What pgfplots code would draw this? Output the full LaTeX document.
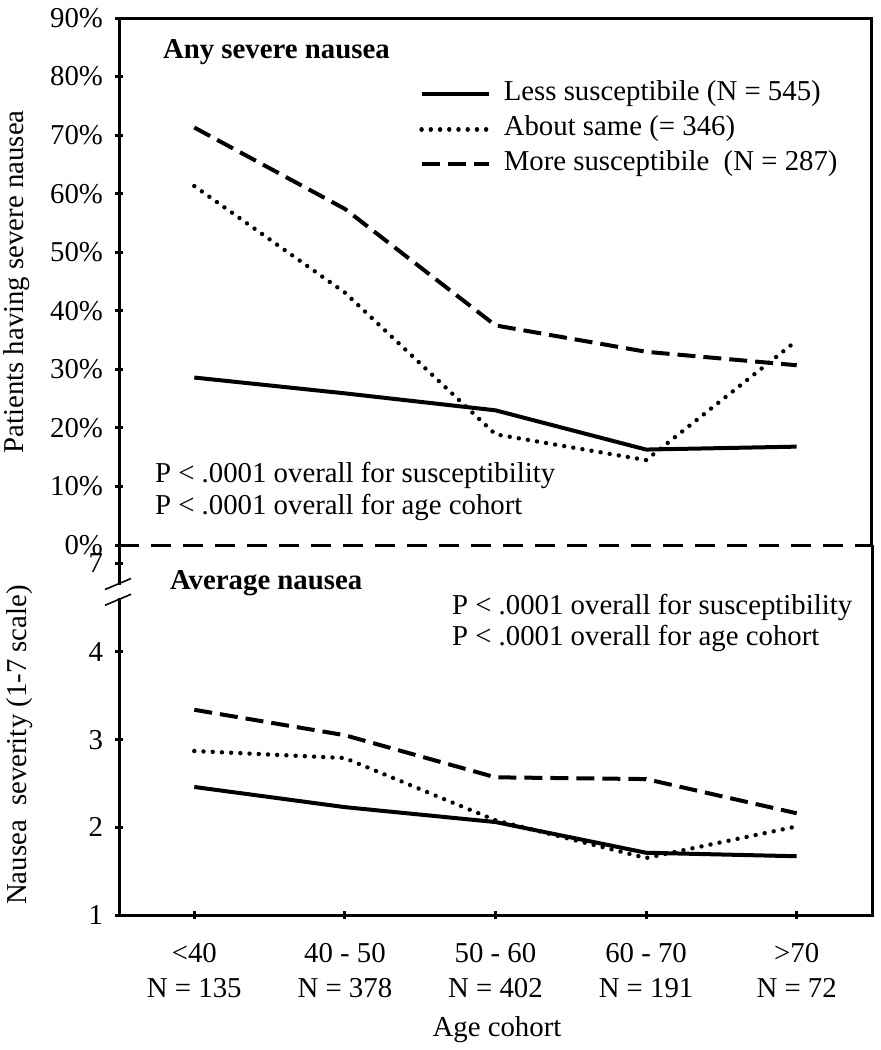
\documentclass[border=0pt]{standalone}
\usepackage{fontspec}
\setmainfont{Liberation Serif}
\usepackage{pgfplots}
\pgfplotsset{compat=1.18}
\newcommand{\ff}{\fontsize{14.4}{17.5}\selectfont}
\begin{document}
\begin{tikzpicture}[font=\ff]
\useasboundingbox (0,0) rectangle (440.5pt,-525pt);
\pgfplotsset{
 common/.style={scale only axis, width=376.5pt, xmin=-0.5, xmax=4.5, clip=false,
   tick align=outside, major tick length=4pt,
   tick style={black, line width=1.5pt},
   tick label style={font=\ff},
   /pgf/number format/assume math mode=true},
 less/.style={black, line width=2pt, line join=round},
 same/.style={black, line width=2.2pt, line cap=round, dash pattern=on 0.01pt off 4.6pt},
 more/.style={black, line width=2pt, dash pattern=on 9pt off 4pt},
}
% ---------- top panel ----------
\begin{axis}[common, at={(59.5pt,-272.5pt)}, anchor=south west, height=263.5pt,
  ymin=0, ymax=90, ytick={0,10,...,90},
  yticklabel={\pgfmathprintnumber{\tick}\%},
  yticklabel style={xshift=-2.5pt},
  axis x line=none, axis y line=left, xtick=\empty,
  axis line style={-, line width=1.5pt, line cap=rect},
  legend cell align=left,
  legend image code/.code={\draw[#1] (0pt,0pt) -- (33.5pt,0pt); \path (38pt,0pt);},
  legend style={at={(0.3984,0.889)}, anchor=north west, draw=none, fill=none,
    inner sep=0pt, row sep=0pt, font=\ff,
    nodes={inner sep=2pt, text height=10pt, text depth=3.5pt}},
]
\addplot[less] coordinates {(0,28.6) (1,25.9) (2,23.0) (3,16.3) (4,16.8)};
\addlegendentry{Less susceptibile (N = 545)}
\addplot[same] coordinates {(0,61.3) (1,43.1) (2,18.9) (3,14.5) (4,34.9)};
\addlegendentry{About same (= 346)}
\addplot[more] coordinates {(0,71.3) (1,57.4) (2,37.5) (3,33.0) (4,30.7)};
\addlegendentry{More susceptibile\ \ (N = 287)}
\draw[line width=1.5pt] (rel axis cs:0,1) -- (rel axis cs:1,1) -- (rel axis cs:1,0);
\draw[line width=1.5pt, dash pattern=on 10pt off 6pt] (rel axis cs:0,0) -- (rel axis cs:1,0);
\end{axis}
% ---------- bottom panel ----------
\begin{axis}[common, at={(59.5pt,-457.5pt)}, anchor=south west, height=185pt,
  ymin=1, ymax=5.219, ytick={1,2,3,4,5.01}, yticklabels={1,2,3,4,7},
  yticklabel style={xshift=-2.5pt},
  axis x line=bottom, axis y line=left,
  axis line style={-, line width=1.5pt, line cap=rect},
  xtick={0,1,2,3,4},
  xticklabels={{<40\\N = 135},{40 - 50\\N = 378},{50 - 60\\N = 402},{60 - 70\\N = 191},{>70\\N = 72}},
  xticklabel style={align=center, yshift=-8.5pt},
]
\addplot[less] coordinates {(0,2.46) (1,2.23) (2,2.06) (3,1.71) (4,1.67)};
\addplot[same] coordinates {(0,2.87) (1,2.79) (2,2.08) (3,1.65) (4,2.01)};
\addplot[more] coordinates {(0,3.34) (1,3.05) (2,2.57) (3,2.55) (4,2.16)};
\draw[line width=1.5pt] (rel axis cs:1,0) -- (rel axis cs:1,1);
% axis break
\fill[white] ([xshift=-2pt]axis cs:-0.5,4.62) rectangle ([xshift=2pt]axis cs:-0.5,4.76);
\draw[line width=0.8pt] ([xshift=-7pt,yshift=-3pt]axis cs:-0.5,4.78) -- ([xshift=6pt,yshift=2.5pt]axis cs:-0.5,4.78);
\draw[line width=0.8pt] ([xshift=-7pt,yshift=-3pt]axis cs:-0.5,4.60) -- ([xshift=6pt,yshift=2.5pt]axis cs:-0.5,4.60);
\end{axis}
% ---------- text ----------
\begin{scope}[x=0.5pt,y=-0.5pt]
\node[anchor=west, font=\ff\bfseries] at (156,52) {Any severe nausea};
\node[anchor=west] at (148,475) {P < .0001 overall for susceptibility};
\node[anchor=west] at (148,507) {P < .0001 overall for age cohort};
\node[anchor=west, font=\ff\bfseries] at (163,583) {Average nausea};
\node[anchor=west] at (445,607) {P < .0001 overall for susceptibility};
\node[anchor=west] at (445,638) {P < .0001 overall for age cohort};
\node[rotate=90] at (17,282) {Patients having severe nausea};
\node[rotate=90] at (20,745) {Nausea\ \ severity (1-7 scale)};
\node at (497,1030) {Age cohort};
\end{scope}
\end{tikzpicture}
\end{document}
